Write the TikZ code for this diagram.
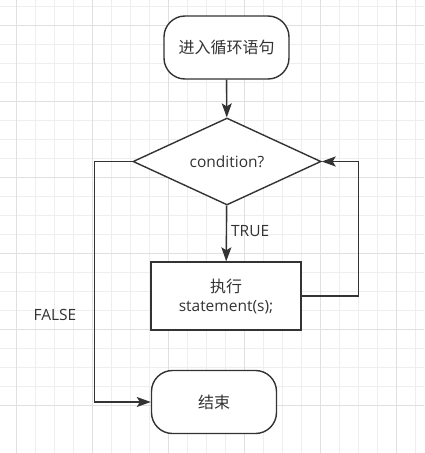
\documentclass[tikz,border=0pt]{standalone}
\usepackage{fontspec}
\setmainfont{Open Sans}
\newfontfamily\cjk{Noto Sans CJK SC}
\usetikzlibrary{shapes.geometric,arrows.meta}

\definecolor{ink}{HTML}{333333}
\definecolor{gridminor}{HTML}{EEEEEE}
\definecolor{gridmajor}{HTML}{E0E0E0}

\tikzset{
  flow/.style={draw=ink,line width=1.4pt,fill=white,text=ink,font=\fontsize{15.5}{19}\selectfont},
  terminal/.style={flow,rectangle,rounded corners=21pt,minimum width=125pt,minimum height=63pt},
  decision/.style={flow,diamond,inner sep=0pt,minimum width=188pt,minimum height=87pt},
  process/.style={flow,rectangle,minimum width=150pt,minimum height=68pt,align=center},
  link/.style={draw=ink,line width=1.4pt,-{Stealth[length=14pt,width=10pt,inset=3pt]}},
  tag/.style={text=ink,font=\fontsize{15.5}{19}\selectfont}
}

\begin{document}
\begin{tikzpicture}[x=1pt,y=-1pt]
\useasboundingbox[fill=white] (0,0) rectangle (424,453);
\foreach \i in {0,...,22} {
  \draw[gridminor,line width=0.9pt] (16+19*\i-19,0) -- (16+19*\i-19,453);
  \draw[gridminor,line width=0.9pt] (0,25+19*\i-38) -- (424,25+19*\i-38);
}
\foreach \i in {0,...,5} {
  \draw[gridmajor,line width=1pt] (16+76*\i,0) -- (16+76*\i,453);
  \draw[gridmajor,line width=1pt] (0,25+76*\i) -- (424,25+76*\i);
}

\node[terminal] (start) at (226.5,47.5) {\cjk\fontsize{16}{19}\selectfont 进入循环语句};
\node[decision] (cond) at (227,161.5) {condition?};
\node[process] (stmt) at (226,296) {{\cjk\fontsize{16}{19}\selectfont 执行}\\statement(s);};
\node[terminal] (finish) at (214,402) {\cjk\fontsize{16}{19}\selectfont 结束};
\node[tag] (false) at (55,315) {FALSE};

\draw[link] (start) -- (cond);
\draw[link] (cond) -- node[tag,right,inner sep=4pt,yshift=2pt] (true) {TRUE} (stmt);
\draw[link] (stmt.east) -- ++(57,0) |- (cond.east);
\draw[link] (cond.west) -- ++(-38,0) |- (finish.west);
\end{tikzpicture}
\end{document}
